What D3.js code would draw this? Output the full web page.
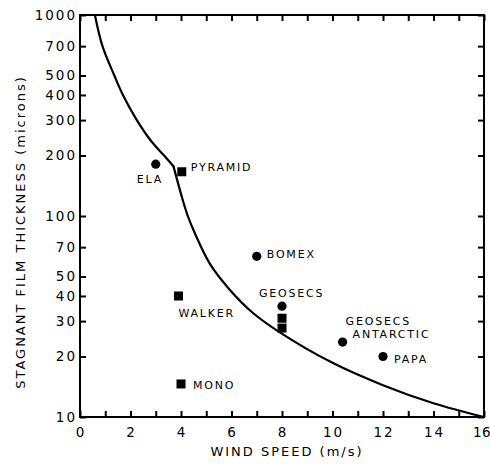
<!DOCTYPE html>
<html>
<head>
<meta charset="utf-8">
<script src="https://cdn.jsdelivr.net/npm/d3@7"></script>
<style>
  html, body { margin: 0; padding: 0; background: #fff; }
  svg { display: block; }
  text { font-family: "DejaVu Sans", sans-serif; fill: #000; }
</style>
</head>
<body>
<svg id="chart" width="490" height="464"></svg>
<script>
// ---- data ----
const xTicks = [0,1,2,3,4,5,6,7,8,9,10,11,12,13,14,15,16];
const xTickLabels = [0,2,4,6,8,10,12,14,16];
const yTicks = [1000,700,500,400,300,200,100,70,50,40,30,20,10];

// curve: wind speed (m/s), film thickness (microns); kink at index 7
const curveX = [0.59, 0.89, 1.36, 1.70, 2.25, 2.84, 3.33, 3.70, 4.07, 4.27, 4.55, 5.14, 5.93, 6.84, 7.79, 10, 12, 14, 16];
const curveY = [1000, 700, 500, 400, 300, 234, 200, 177, 120, 100, 82, 58, 43, 33, 27, 18.6, 14.4, 11.7, 10];
const kinkIndex = 7;

// circles (●)
const circleNames = ["ELA", "BOMEX", "GEOSECS", "GEOSECS ANTARCTIC", "PAPA"];
const circleX = [3.0, 7.0, 8.0, 10.4, 12.0];
const circleY = [181, 63, 35.6, 23.6, 20];

// squares (■)
const squareNames = ["PYRAMID", "WALKER", "MONO", "GEOSECS-1", "GEOSECS-2"];
const squareX = [4.03, 3.9, 4.0, 8.0, 8.0];
const squareY = [166, 40, 14.6, 31, 27.7];

// ---- layout ----
const svg = d3.select("#chart");
const L = 80, R = 484, T = 15, B = 417;

const x = d3.scaleLinear().domain([0, 16]).range([L, R]);
const y = d3.scaleLog().domain([10, 1000]).range([B, T]);

// frame
svg.append("rect")
  .attr("x", L).attr("y", T).attr("width", R - L).attr("height", B - T)
  .attr("fill", "none").attr("stroke", "#000").attr("stroke-width", 2);

// axes with inward ticks
const tickLen = 6;
const axB = svg.append("g").attr("transform", `translate(0,${B})`)
  .call(d3.axisBottom(x).tickValues(xTicks).tickSizeInner(-tickLen).tickSizeOuter(0).tickFormat(""));
const axT = svg.append("g").attr("transform", `translate(0,${T})`)
  .call(d3.axisTop(x).tickValues(xTicks).tickSizeInner(-tickLen).tickSizeOuter(0).tickFormat(""));
const axL = svg.append("g").attr("transform", `translate(${L},0)`)
  .call(d3.axisLeft(y).tickValues(yTicks).tickSizeInner(-tickLen).tickSizeOuter(0).tickFormat(""));
const axR = svg.append("g").attr("transform", `translate(${R},0)`)
  .call(d3.axisRight(y).tickValues(yTicks).tickSizeInner(-tickLen).tickSizeOuter(0).tickFormat(""));
[axB, axT, axL, axR].forEach(a => {
  a.select(".domain").remove();
  a.selectAll(".tick line").attr("stroke", "#000").attr("stroke-width", 2);
});

// tick labels
svg.append("g").selectAll("text").data(xTickLabels).join("text")
  .attr("x", d => x(d) + (d === 16 ? -2 : 1)).attr("y", B + 20)
  .attr("text-anchor", "middle")
  .style("font-size", "13.5px").style("letter-spacing", d => d === 16 ? "0.5px" : "2px")
  .text(d => d);
svg.append("g").selectAll("text").data(yTicks).join("text")
  .attr("x", L - 3).attr("y", d => y(d)).attr("dy", "0.36em")
  .attr("text-anchor", "end")
  .style("font-size", "13.5px").style("letter-spacing", "2px")
  .text(d => d);

// axis titles
svg.append("text")
  .attr("x", 287).attr("y", 456).attr("text-anchor", "middle")
  .style("font-size", "13px").style("letter-spacing", "2px")
  .text("WIND SPEED (m/s)");
svg.append("text")
  .attr("transform", "translate(25,232) rotate(-90)").attr("text-anchor", "middle")
  .style("font-size", "13px").style("letter-spacing", "2px")
  .text("STAGNANT FILM THICKNESS (microns)");

// curve (two smooth pieces meeting at the kink)
const curvePts = curveX.map((v, i) => [v, curveY[i]]);
const line = d3.line().x(d => x(d[0])).y(d => y(d[1])).curve(d3.curveCatmullRom.alpha(0.5));
[curvePts.slice(0, kinkIndex + 1), curvePts.slice(kinkIndex)].forEach(seg => {
  svg.append("path")
    .datum(seg)
    .attr("d", line)
    .attr("fill", "none").attr("stroke", "#000").attr("stroke-width", 2.2)
    .attr("stroke-linejoin", "round").attr("stroke-linecap", "round");
});

// markers
const circles = circleNames.map((n, i) => ({ n, x: circleX[i], y: circleY[i] }));
const squares = squareNames.map((n, i) => ({ n, x: squareX[i], y: squareY[i] }));
svg.append("g").selectAll("circle").data(circles).join("circle")
  .attr("cx", d => x(d.x)).attr("cy", d => y(d.y)).attr("r", 4.6).attr("fill", "#000");
const sq = 9;
svg.append("g").selectAll("rect").data(squares).join("rect")
  .attr("x", d => x(d.x) - sq / 2).attr("y", d => y(d.y) - sq / 2)
  .attr("width", sq).attr("height", sq).attr("fill", "#000");

// labels (offsets from their marker, in pixels)
const labelOffsets = {
  "ELA": [[-19, 19, "ELA"]],
  "PYRAMID": [[9, -1, "PYRAMID"]],
  "WALKER": [[0, 21, "WALKER"]],
  "MONO": [[12, 5, "MONO"]],
  "BOMEX": [[10, 2, "BOMEX"]],
  "GEOSECS": [[-23, -9, "GEOSECS"]],
  "GEOSECS ANTARCTIC": [[3, -17, "GEOSECS"], [10, -4, "ANTARCTIC"]],
  "PAPA": [[11, 7, "PAPA"]]
};
const labelled = circles.concat(squares).filter(d => labelOffsets[d.n]);
const lblData = [];
labelled.forEach(d => labelOffsets[d.n].forEach(o => lblData.push({ px: x(d.x) + o[0], py: y(d.y) + o[1], t: o[2] })));
svg.append("g").selectAll("text").data(lblData).join("text")
  .attr("x", d => d.px).attr("y", d => d.py)
  .style("font-size", "11px").style("letter-spacing", "1.8px")
  .text(d => d.t);
</script>
</body>
</html>
